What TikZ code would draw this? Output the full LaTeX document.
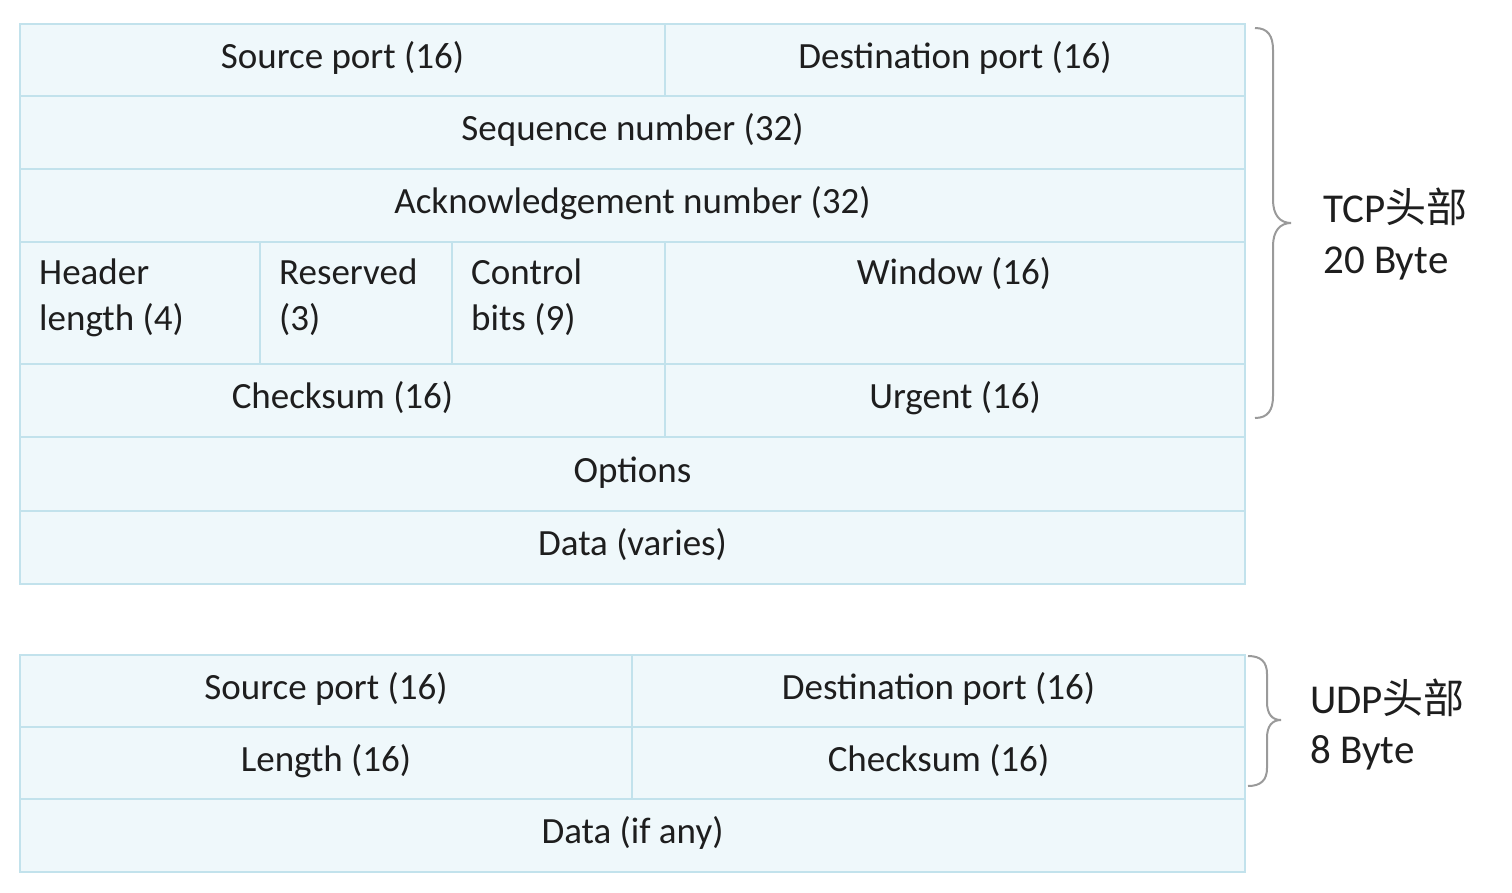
\documentclass[tikz,border=0pt]{standalone}
\usepackage{fontspec}
\setmainfont{Carlito}
\newfontfamily\cjk{Noto Sans CJK SC}
\definecolor{cellfill}{HTML}{EFF8FB}
\definecolor{cellline}{HTML}{C2E2EC}
\definecolor{txt}{HTML}{1E1E1E}
\definecolor{bracecol}{HTML}{9A9A9A}
\begin{document}
\begin{tikzpicture}[x=1pt,y=-1pt,
 cell/.style={draw=cellline, fill=cellfill, line width=2pt, inner sep=0pt, anchor=north west, text=txt, font=\fontsize{37}{46}\selectfont, text height=27pt, text depth=11pt},
 lbl/.style={text=txt, font=\fontsize{37}{46}\selectfont, inner sep=0pt},
 side/.style={text=txt, font=\fontsize{41}{51}\selectfont, inner sep=0pt, anchor=base west},
 bracepath/.style={draw=bracecol, line width=2pt}]
\useasboundingbox (0,0) rectangle (1512,892);
% TCP
\node[cell, minimum width=645pt, minimum height=72pt] (sp) at (19,23) {Source port (16)};
\node[cell, minimum width=580pt, minimum height=72pt] (dp) at (664,23) {Destination port (16)};
\node[cell, minimum width=1225pt, minimum height=73pt] (seq) at (19,95) {Sequence number (32)};
\node[cell, minimum width=1225pt, minimum height=73pt] (ack) at (19,168) {Acknowledgement number (32)};
\node[cell, minimum width=240pt, minimum height=122pt] (hl) at (19,241) {};
\node[cell, minimum width=192pt, minimum height=122pt] (res) at (259,241) {};
\node[cell, minimum width=213pt, minimum height=122pt] (ctl) at (451,241) {};
\node[cell, minimum width=580pt, minimum height=122pt] (win) at (664,241) {};
\node[cell, minimum width=645pt, minimum height=73pt] (cks) at (19,363) {Checksum (16)};
\node[cell, minimum width=580pt, minimum height=73pt] (urg) at (664,363) {Urgent (16)};
\node[cell, minimum width=1225pt, minimum height=74pt] (opt) at (19,436) {Options};
\node[cell, minimum width=1225pt, minimum height=73pt] (dat) at (19,510) {Data (varies)};
% row 4 texts
\node[lbl, anchor=base west] (hlA) at (39,284) {Header};
\node[lbl, anchor=base west] (hlB) at (39,330) {length (4)};
\node[lbl, anchor=base west] (resA) at (279,284) {Reserved};
\node[lbl, anchor=base west] (resB) at (279,330) {(3)};
\node[lbl, anchor=base west] (ctlA) at (471,284) {Control};
\node[lbl, anchor=base west] (ctlB) at (471,330) {bits (9)};
\node[lbl, anchor=base] (winA) at (954,284) {Window (16)};
% UDP
\node[cell, minimum width=612pt, minimum height=72pt] (usp) at (19,654) {Source port (16)};
\node[cell, minimum width=613pt, minimum height=72pt] (udp) at (631,654) {Destination port (16)};
\node[cell, minimum width=612pt, minimum height=72pt] (ulen) at (19,726) {Length (16)};
\node[cell, minimum width=613pt, minimum height=72pt] (ucks) at (631,726) {Checksum (16)};
\node[cell, minimum width=1225pt, minimum height=73pt] (udat) at (19,798) {Data (if any)};
% braces
\draw[bracepath] (1255,28) .. controls (1268,28) and (1273,36) .. (1273,50) -- (1273,200)
  .. controls (1273,215) and (1280,223) .. (1291,223)
  .. controls (1280,223) and (1273,231) .. (1273,246) -- (1273,396)
  .. controls (1273,410) and (1268,418) .. (1255,418);
\draw[bracepath] (1248,656) .. controls (1261,656) and (1267,662) .. (1267,674) -- (1267,702)
  .. controls (1267,714) and (1272,720) .. (1281,720)
  .. controls (1272,720) and (1267,726) .. (1267,738) -- (1267,768)
  .. controls (1267,780) and (1261,786) .. (1248,786);
% side labels
\node[side] (tcpA) at (1323,222) {TCP{\cjk 头部}};
\node[side] (tcpB) at (1323,273) {20 Byte};
\node[side] (udpA) at (1310,713) {UDP{\cjk 头部}};
\node[side] (udpB) at (1310,763) {8 Byte};
\end{tikzpicture}
\end{document}
